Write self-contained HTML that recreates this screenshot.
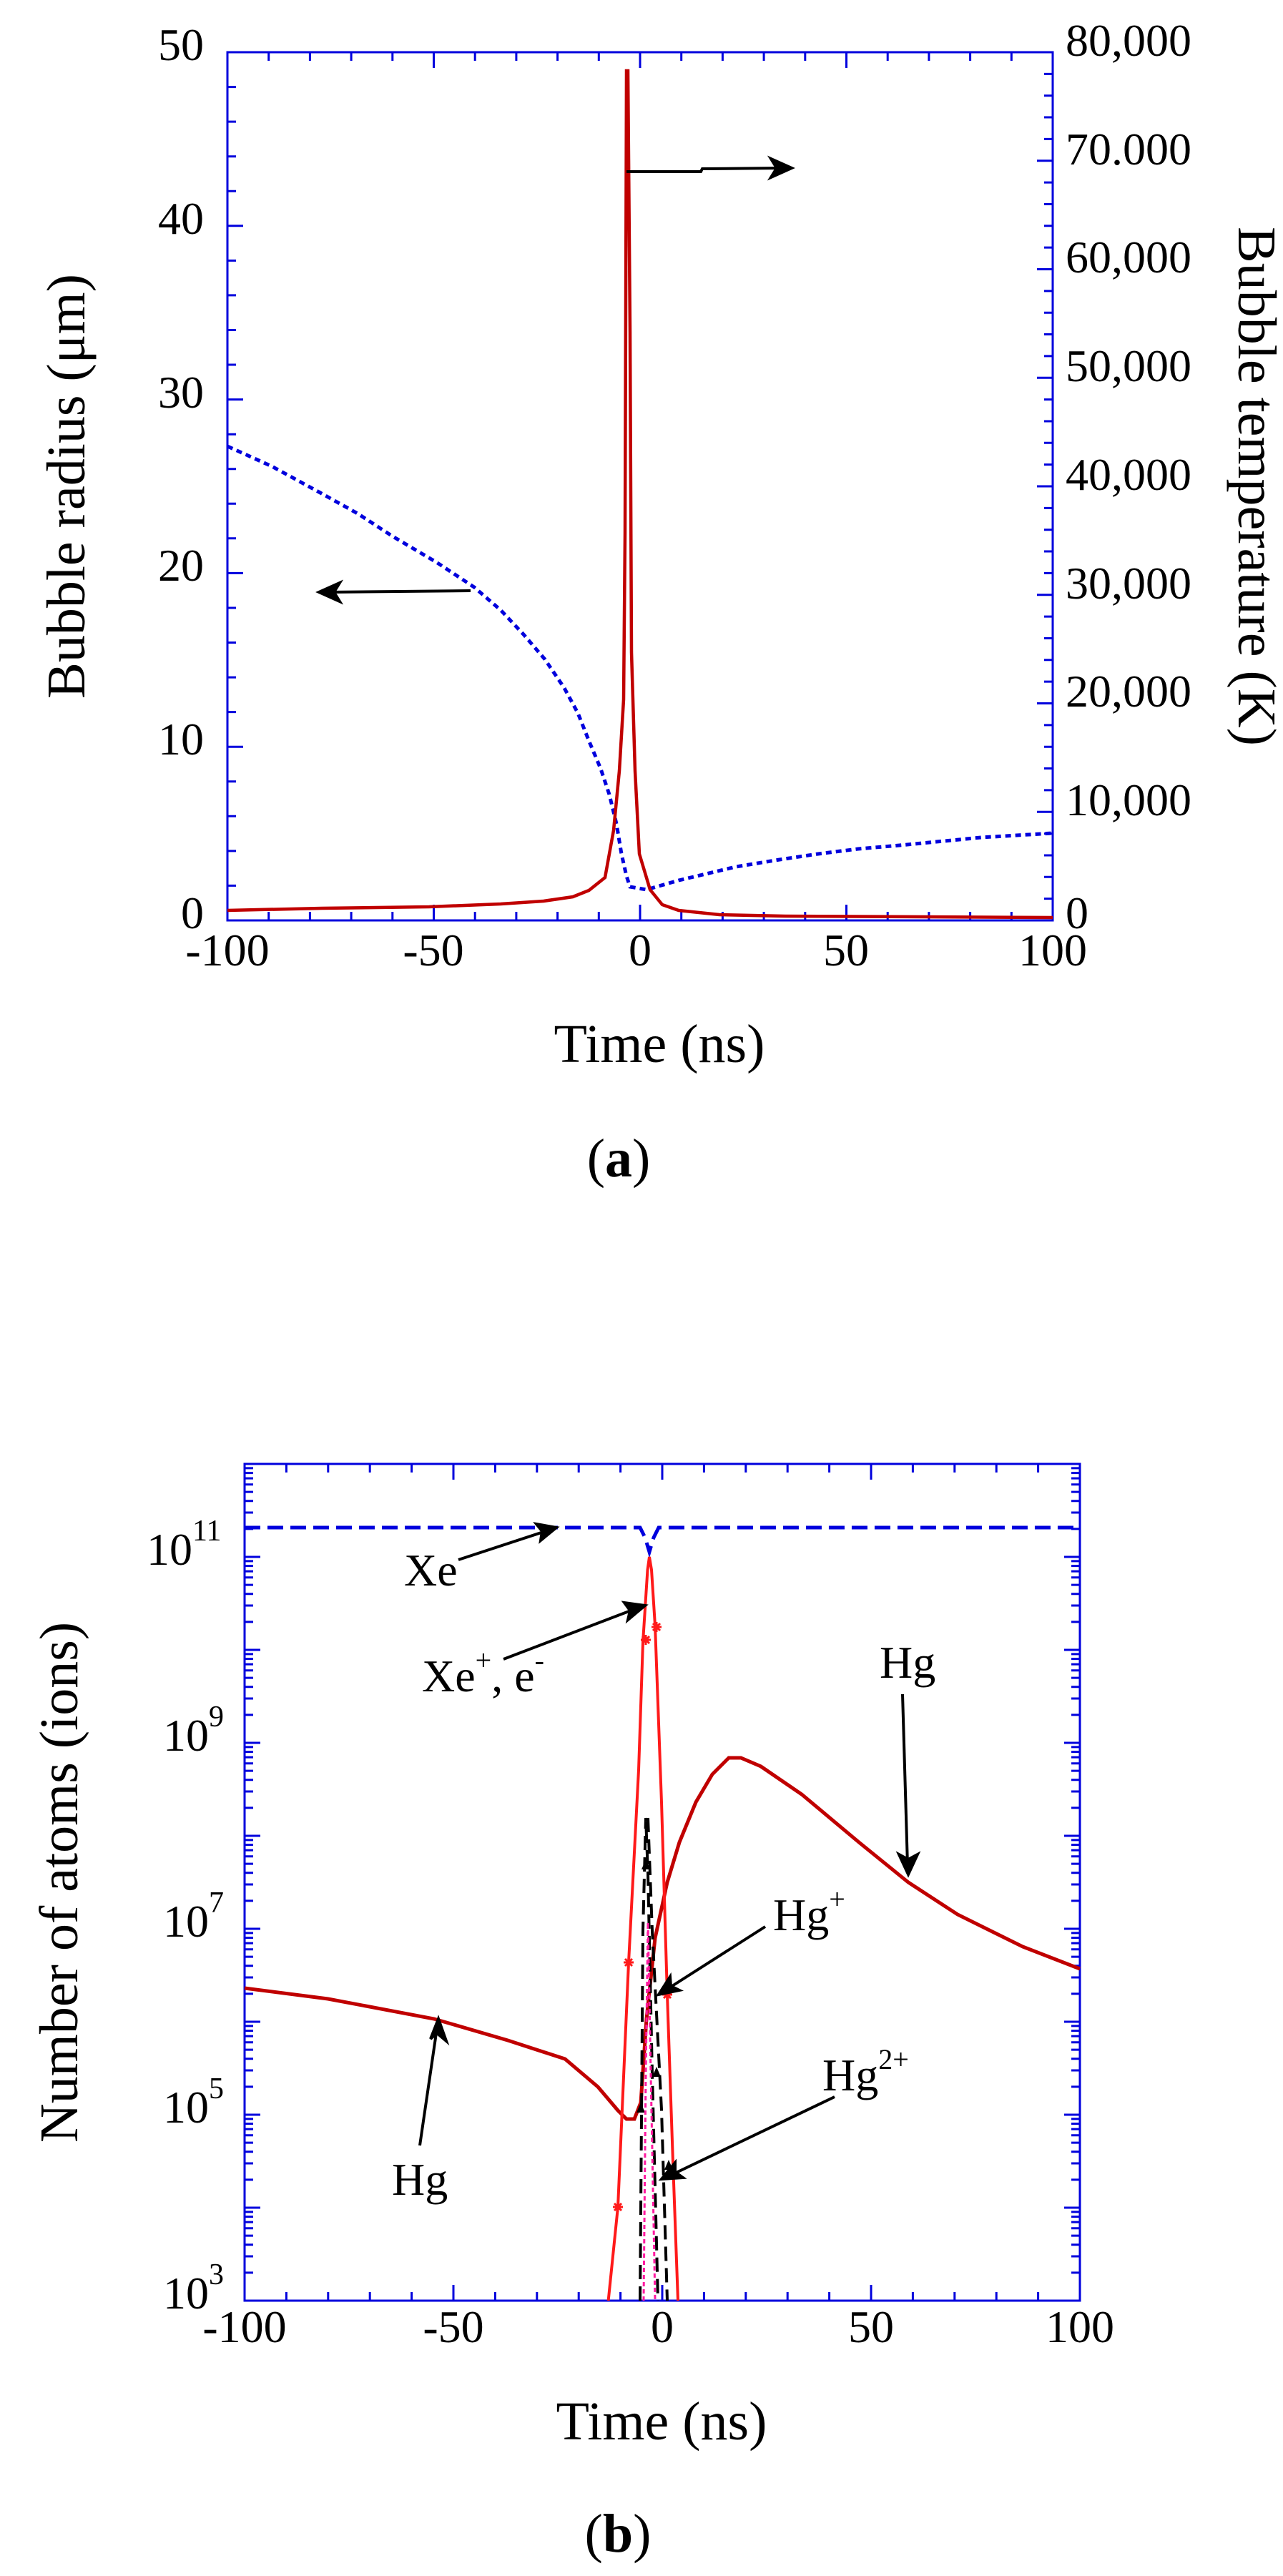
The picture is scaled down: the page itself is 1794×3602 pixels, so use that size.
<!DOCTYPE html>
<html><head><meta charset="utf-8"><style>
html,body{margin:0;padding:0;background:#fff;}
svg{display:block;}
text{font-family:"Liberation Serif",serif;fill:#000;}
</style></head><body>
<svg width="1794" height="3602" viewBox="0 0 1794 3602" xmlns="http://www.w3.org/2000/svg">
<defs>
<g id="dec"><path d="M0 0h22M0 -39.1h12M0 -62h12M0 -78.3h12M0 -90.9h12M0 -101.2h12M0 -109.9h12M0 -117.4h12M0 -124.1h12" stroke="#0000dd" stroke-width="3" fill="none"/></g>
</defs>

<!-- ============ PLOT A ============ -->
<rect x="318" y="73" width="1154" height="1214" fill="none" stroke="#0000dd" stroke-width="3"/>
<g stroke="#0000dd" stroke-width="3" fill="none">
<path d="M375.7 1287v-12M433.4 1287v-12M491.1 1287v-12M548.8 1287v-12M606.5 1287v-22M664.2 1287v-12M721.9 1287v-12M779.6 1287v-12M837.3 1287v-12M895 1287v-22M952.7 1287v-12M1010.4 1287v-12M1068.1 1287v-12M1125.8 1287v-12M1183.5 1287v-22M1241.2 1287v-12M1298.9 1287v-12M1356.6 1287v-12M1414.3 1287v-12"/>
<path d="M375.7 73v12M433.4 73v12M491.1 73v12M548.8 73v12M606.5 73v22M664.2 73v12M721.9 73v12M779.6 73v12M837.3 73v12M895 73v22M952.7 73v12M1010.4 73v12M1068.1 73v12M1125.8 73v12M1183.5 73v22M1241.2 73v12M1298.9 73v12M1356.6 73v12M1414.3 73v12"/>
<path d="M318 1238.4h12M318 1189.9h12M318 1141.3h12M318 1092.8h12M318 1044.2h22M318 995.6h12M318 947.1h12M318 898.5h12M318 850h12M318 801.4h22M318 752.8h12M318 704.3h12M318 655.7h12M318 607.2h12M318 558.6h22M318 510h12M318 461.5h12M318 412.9h12M318 364.4h12M318 315.8h22M318 267.2h12M318 218.7h12M318 170.1h12M318 121.6h12"/>
<path d="M1472 1256.65h-12M1472 1226.3h-12M1472 1195.95h-12M1472 1165.6h-12M1472 1135.25h-22M1472 1104.9h-12M1472 1074.55h-12M1472 1044.2h-12M1472 1013.85h-12M1472 983.5h-22M1472 953.15h-12M1472 922.8h-12M1472 892.45h-12M1472 862.1h-12M1472 831.75h-22M1472 801.4h-12M1472 771.05h-12M1472 740.7h-12M1472 710.35h-12M1472 680h-22M1472 649.65h-12M1472 619.3h-12M1472 588.95h-12M1472 558.6h-12M1472 528.25h-22M1472 497.9h-12M1472 467.55h-12M1472 437.2h-12M1472 406.85h-12M1472 376.5h-22M1472 346.15h-12M1472 315.8h-12M1472 285.45h-12M1472 255.1h-12M1472 224.75h-22M1472 194.4h-12M1472 164.05h-12M1472 133.7h-12M1472 103.35h-12"/>
</g>
<g font-size="64" text-anchor="end">
<text x="285" y="1298">0</text>
<text x="285" y="1055">10</text>
<text x="285" y="812">20</text>
<text x="285" y="570">30</text>
<text x="285" y="327">40</text>
<text x="285" y="84">50</text>
</g>
<g font-size="64" text-anchor="start">
<text x="1490" y="1298">0</text>
<text x="1490" y="1140">10,000</text>
<text x="1490" y="988">20,000</text>
<text x="1490" y="837">30,000</text>
<text x="1490" y="685">40,000</text>
<text x="1490" y="533">50,000</text>
<text x="1490" y="381">60,000</text>
<text x="1490" y="230">70.000</text>
<text x="1490" y="78">80,000</text>
</g>
<g font-size="64" text-anchor="middle">
<text x="318" y="1350">-100</text>
<text x="606" y="1350">-50</text>
<text x="895" y="1350">0</text>
<text x="1183" y="1350">50</text>
<text x="1472" y="1350">100</text>
</g>
<text x="922" y="1485" font-size="76" text-anchor="middle">Time (ns)</text>
<text x="865" y="1645" font-size="76" text-anchor="middle">(<tspan font-weight="bold">a</tspan>)</text>
<text transform="translate(118 680) rotate(-90)" font-size="76" text-anchor="middle">Bubble radius (μm)</text>
<text transform="translate(1732 680) rotate(90)" font-size="76" text-anchor="middle">Bubble temperature (K)</text>

<path d="M318 624 L380 652 L446 688 L500 718 L549 750 L610 786 L663 821 L700 853 L732 887 L762 922 L789 962 L808 997 L823.5 1036 L840 1075 L852 1111 L862 1152 L869 1194 L876 1225 L881 1240 L904 1244 L949 1231 L1029 1212 L1090 1202 L1144 1194 L1200 1187 L1258 1182 L1372 1171 L1472 1165" fill="none" stroke="#0000dd" stroke-width="5" stroke-dasharray="8 6"/>
<path d="M318 1273 L450 1270 L600 1268 L700 1264 L760 1260 L801 1254 L823.5 1245 L846 1227 L858 1161 L866 1078 L872 978 L874 746 L876 99 L878 99 L881 464 L883 912 L888 1078 L894 1194 L909 1244 L926 1265 L949 1273 L1006 1279 L1098 1281 L1472 1283" fill="none" stroke="#c00000" stroke-width="4.5"/>
<g stroke="#000" stroke-width="4" fill="#000">
<path d="M876 240 L980 240 L982 236 L1095 235" fill="none"/>
<path d="M1107 235 L1078 222 L1086 235 L1078 248 Z"/>
<path d="M658 826 L460 828" fill="none"/>
<path d="M446 828 L475 815 L467 828 L475 841 Z"/>
</g>

<!-- ============ PLOT B ============ -->
<rect x="342" y="2047" width="1168" height="1170" fill="none" stroke="#0000dd" stroke-width="3"/>
<g stroke="#0000dd" stroke-width="3" fill="none">
<path d="M400.4 3217v-12M458.8 3217v-12M517.2 3217v-12M575.6 3217v-12M634 3217v-22M692.4 3217v-12M750.8 3217v-12M809.2 3217v-12M867.6 3217v-12M926 3217v-22M984.4 3217v-12M1042.8 3217v-12M1101.2 3217v-12M1159.6 3217v-12M1218 3217v-22M1276.4 3217v-12M1334.8 3217v-12M1393.2 3217v-12M1451.6 3217v-12"/>
<path d="M400.4 2047v12M458.8 2047v12M517.2 2047v12M575.6 2047v12M634 2047v22M692.4 2047v12M750.8 2047v12M809.2 2047v12M867.6 2047v12M926 2047v22M984.4 2047v12M1042.8 2047v12M1101.2 2047v12M1159.6 2047v12M1218 2047v22M1276.4 2047v12M1334.8 2047v12M1393.2 2047v12M1451.6 2047v12"/>
</g>
<use href="#dec" transform="translate(342 3217)"/>
<use href="#dec" transform="translate(342 3087)"/>
<use href="#dec" transform="translate(342 2957)"/>
<use href="#dec" transform="translate(342 2827)"/>
<use href="#dec" transform="translate(342 2697)"/>
<use href="#dec" transform="translate(342 2567)"/>
<use href="#dec" transform="translate(342 2437)"/>
<use href="#dec" transform="translate(342 2307)"/>
<use href="#dec" transform="translate(342 2177)"/>
<use href="#dec" transform="translate(1510 3217) scale(-1 1)"/>
<use href="#dec" transform="translate(1510 3087) scale(-1 1)"/>
<use href="#dec" transform="translate(1510 2957) scale(-1 1)"/>
<use href="#dec" transform="translate(1510 2827) scale(-1 1)"/>
<use href="#dec" transform="translate(1510 2697) scale(-1 1)"/>
<use href="#dec" transform="translate(1510 2567) scale(-1 1)"/>
<use href="#dec" transform="translate(1510 2437) scale(-1 1)"/>
<use href="#dec" transform="translate(1510 2307) scale(-1 1)"/>
<use href="#dec" transform="translate(1510 2177) scale(-1 1)"/>

<g font-size="64">
<text x="228" y="3228">10<tspan font-size="42" dy="-34">3</tspan></text>
<text x="228" y="2968">10<tspan font-size="42" dy="-34">5</tspan></text>
<text x="228" y="2708">10<tspan font-size="42" dy="-34">7</tspan></text>
<text x="228" y="2448">10<tspan font-size="42" dy="-34">9</tspan></text>
<text x="205" y="2188">10<tspan font-size="42" dy="-34">11</tspan></text>
</g>
<g font-size="64" text-anchor="middle">
<text x="342" y="3275">-100</text>
<text x="634" y="3275">-50</text>
<text x="926" y="3275">0</text>
<text x="1218" y="3275">50</text>
<text x="1510" y="3275">100</text>
</g>
<text x="925" y="3411" font-size="76" text-anchor="middle">Time (ns)</text>
<text x="864" y="3568" font-size="76" text-anchor="middle">(<tspan font-weight="bold">b</tspan>)</text>
<text transform="translate(108 2632) rotate(-90)" font-size="76" text-anchor="middle">Number of atoms (ions)</text>

<path d="M342 2136 L895 2136 L902 2150 L908 2170 L914 2150 L921 2136 L1510 2136" fill="none" stroke="#0000dd" stroke-width="5" stroke-dasharray="22 10"/>
<path d="M342 2780 L458.6 2795 L607 2823 L710 2853 L790 2879 L836 2918 L864 2951 L876 2963 L887 2963 L896 2940 L904 2823 L916 2710 L933 2632 L950 2576 L973 2520 L996 2481 L1019 2458 L1036 2458 L1064 2470 L1121 2509 L1201 2576 L1270 2632 L1339 2677 L1430 2722 L1510 2753" fill="none" stroke="#c00000" stroke-width="5"/>
<path d="M850.6 3217 L864 3086 L879 2744 L893 2475 L899 2296 L905.5 2195 L908 2177 L911 2195 L916 2273 L925 2520 L933 2789 L941 3024 L948 3217" fill="none" stroke="#ff1a1a" stroke-width="4"/>
<g stroke="#ff1a1a" stroke-width="3">
<path d="M857 3086h14M864 3079v14M859 3081l10 10M869 3081l-10 10"/>
<path d="M872 2744h14M879 2737v14M874 2739l10 10M884 2739l-10 10"/>
<path d="M896 2293h14M903 2286v14M898 2288l10 10M908 2288l-10 10"/>
<path d="M911 2275h14M918 2268v14M913 2270l10 10M923 2270l-10 10"/>
<path d="M926 2789h14M933 2782v14M928 2784l10 10M938 2784l-10 10"/>
</g>
<path d="M895 3217 L899 2700 L903 2542 L906 2620 L912 2900 L920 3217" fill="none" stroke="#000" stroke-width="4" stroke-dasharray="20 10"/>
<path d="M906 2542 L912 2700 L925 2950 L933 3217" fill="none" stroke="#000" stroke-width="4" stroke-dasharray="20 10"/>
<g fill="#000"><path d="M903 2600l-6 14h12z"/><path d="M896 2940l-6 14h12z"/><path d="M918 2890l-6 14h12z"/><path d="M935 3020l-6 14h12z"/></g>
<path d="M900 3217 L903 2900 L906 2688 L910 2900 L916 3217" fill="none" stroke="#ff1aa0" stroke-width="3" stroke-dasharray="6 4"/>

<g stroke="#000" stroke-width="4" fill="#000">
<path d="M641 2181 L766 2140" fill="none"/><path d="M778 2136 L750 2131 L758 2141 L756 2154 Z"/>
<path d="M704 2320 L890 2249" fill="none"/><path d="M902 2245 L873 2241 L881 2252 L878 2265 Z"/>
<path d="M1262 2369 L1269 2608" fill="none"/><path d="M1270 2621 L1257 2593 L1270 2600 L1283 2593 Z"/>
<path d="M1070 2694 L932 2782" fill="none"/><path d="M921 2789 L937 2764 L938 2777 L950 2783 Z"/>
<path d="M1167 2932 L937 3042" fill="none"/><path d="M925 3047 L944 3024 L944 3037 L955 3045 Z"/>
<path d="M587 3000 L611 2836" fill="none"/><path d="M613 2823 L602 2851 L611 2843 L624 2854 Z"/>
</g>
<g font-size="64">
<text x="565" y="2217">Xe</text>
<text x="590" y="2365">Xe<tspan font-size="40" dy="-30">+</tspan><tspan dy="30">, e</tspan><tspan font-size="40" dy="-30">-</tspan></text>
<text x="1230" y="2346">Hg</text>
<text x="1081" y="2699">Hg<tspan font-size="40" dy="-30">+</tspan></text>
<text x="1150" y="2923">Hg<tspan font-size="40" dy="-30">2+</tspan></text>
<text x="548" y="3069">Hg</text>
</g>
</svg>
</body></html>
